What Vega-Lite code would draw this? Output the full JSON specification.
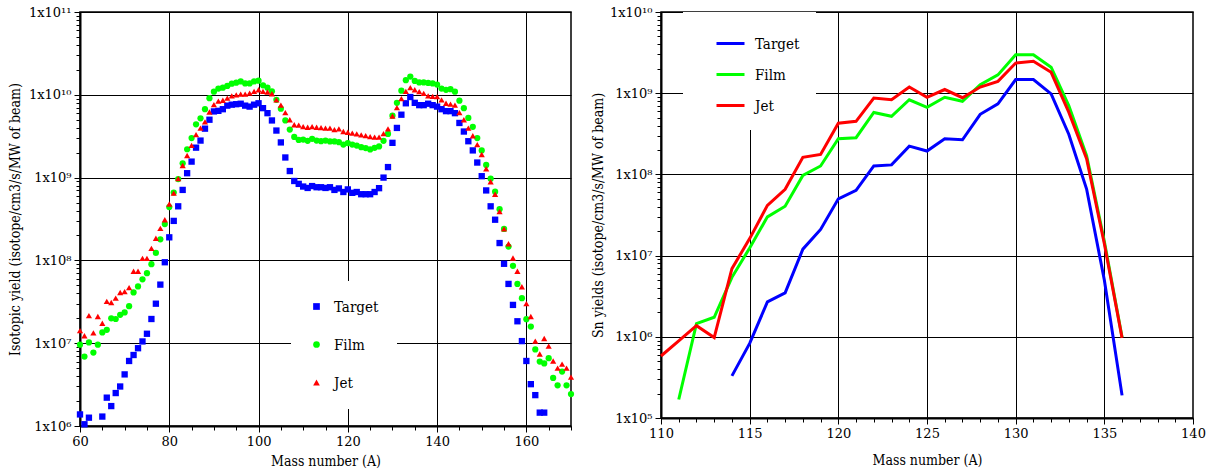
{
"$schema": "https://vega.github.io/schema/vega-lite/v6.json",
"padding": {"left": 7, "top": 5, "right": 5, "bottom": 5},
"background": "white",
"spacing": 90,
"bounds": "flush",
"config": {
  "font": "DejaVu Serif",
  "view": {"stroke": "black", "strokeWidth": 1.5},
  "axis": {"labelFont": "DejaVu Serif", "labelFontSize": 13, "labelColor": "black", "titleFont": "DejaVu Serif Condensed", "titleFontSize": 14, "titleFontWeight": "normal", "titleColor": "black", "domainColor": "black", "domainWidth": 2, "tickColor": "black", "tickWidth": 1, "gridColor": "black", "gridWidth": 1, "labelOverlap": false, "labelFlush": false, "labelBound": false, "labelPadding": 3},
  "legend": {"labelFont": "DejaVu Serif Condensed", "labelFontSize": 15, "labelColor": "black"}
},
"resolve": {"scale": {"color": "independent", "shape": "independent"}, "legend": {"color": "independent", "shape": "independent"}},
"datasets": {
"scatter": [
{"series":"Target","mass":60,"yield":1.38e6},{"series":"Target","mass":61,"yield":1.05e6},{"series":"Target","mass":62,"yield":1.26e6},{"series":"Target","mass":65,"yield":1.3e6},{"series":"Target","mass":66,"yield":2.2e6},{"series":"Target","mass":67,"yield":1.74e6},{"series":"Target","mass":68,"yield":2.5e6},{"series":"Target","mass":69,"yield":3.0e6},{"series":"Target","mass":70,"yield":4.2e6},{"series":"Target","mass":71,"yield":6.1e6},{"series":"Target","mass":72,"yield":7.2e6},{"series":"Target","mass":73,"yield":8.7e6},{"series":"Target","mass":74,"yield":1.05e7},{"series":"Target","mass":75,"yield":1.3e7},{"series":"Target","mass":76,"yield":1.96e7},{"series":"Target","mass":77,"yield":3.0e7},{"series":"Target","mass":78,"yield":5.1e7},{"series":"Target","mass":79,"yield":9.5e7},{"series":"Target","mass":80,"yield":1.9e8},{"series":"Target","mass":81,"yield":3.0e8},{"series":"Target","mass":82,"yield":4.5e8},{"series":"Target","mass":83,"yield":7.1e8},{"series":"Target","mass":84,"yield":1.13e9},{"series":"Target","mass":85,"yield":1.56e9},{"series":"Target","mass":86,"yield":2.3e9},{"series":"Target","mass":87,"yield":2.8e9},{"series":"Target","mass":88,"yield":3.9e9},{"series":"Target","mass":89,"yield":5.0e9},{"series":"Target","mass":90,"yield":6.3e9},{"series":"Target","mass":91,"yield":6.4e9},{"series":"Target","mass":92,"yield":6.7e9},{"series":"Target","mass":93,"yield":7.4e9},{"series":"Target","mass":94,"yield":7.6e9},{"series":"Target","mass":95,"yield":7.7e9},{"series":"Target","mass":96,"yield":7.8e9},{"series":"Target","mass":97,"yield":7.4e9},{"series":"Target","mass":98,"yield":7.2e9},{"series":"Target","mass":99,"yield":7.6e9},{"series":"Target","mass":100,"yield":7.9e9},{"series":"Target","mass":101,"yield":6.9e9},{"series":"Target","mass":102,"yield":6.0e9},{"series":"Target","mass":103,"yield":4.9e9},{"series":"Target","mass":104,"yield":3.7e9},{"series":"Target","mass":105,"yield":2.66e9},{"series":"Target","mass":106,"yield":1.75e9},{"series":"Target","mass":107,"yield":1.2e9},{"series":"Target","mass":108,"yield":9.1e8},{"series":"Target","mass":109,"yield":8.4e8},{"series":"Target","mass":110,"yield":7.8e8},{"series":"Target","mass":111,"yield":7.5e8},{"series":"Target","mass":112,"yield":7.9e8},{"series":"Target","mass":113,"yield":7.65e8},{"series":"Target","mass":114,"yield":7.65e8},{"series":"Target","mass":115,"yield":7.5e8},{"series":"Target","mass":116,"yield":7.65e8},{"series":"Target","mass":117,"yield":7.1e8},{"series":"Target","mass":118,"yield":7.4e8},{"series":"Target","mass":119,"yield":6.7e8},{"series":"Target","mass":120,"yield":7.2e8},{"series":"Target","mass":121,"yield":6.55e8},{"series":"Target","mass":122,"yield":6.7e8},{"series":"Target","mass":123,"yield":6.3e8},{"series":"Target","mass":124,"yield":6.3e8},{"series":"Target","mass":125,"yield":6.3e8},{"series":"Target","mass":126,"yield":6.7e8},{"series":"Target","mass":127,"yield":7.45e8},{"series":"Target","mass":128,"yield":1.0e9},{"series":"Target","mass":129,"yield":1.34e9},{"series":"Target","mass":130,"yield":2.63e9},{"series":"Target","mass":131,"yield":3.98e9},{"series":"Target","mass":132,"yield":5.75e9},{"series":"Target","mass":133,"yield":7.9e9},{"series":"Target","mass":134,"yield":9.4e9},{"series":"Target","mass":135,"yield":8.0e9},{"series":"Target","mass":136,"yield":7.5e9},{"series":"Target","mass":137,"yield":7.5e9},{"series":"Target","mass":138,"yield":7.8e9},{"series":"Target","mass":139,"yield":7.5e9},{"series":"Target","mass":140,"yield":7.2e9},{"series":"Target","mass":141,"yield":6.7e9},{"series":"Target","mass":142,"yield":6.35e9},{"series":"Target","mass":143,"yield":6.35e9},{"series":"Target","mass":144,"yield":6.0e9},{"series":"Target","mass":145,"yield":4.57e9},{"series":"Target","mass":146,"yield":3.6e9},{"series":"Target","mass":147,"yield":2.75e9},{"series":"Target","mass":148,"yield":2.13e9},{"series":"Target","mass":149,"yield":1.52e9},{"series":"Target","mass":150,"yield":1.04e9},{"series":"Target","mass":151,"yield":7.0e8},{"series":"Target","mass":152,"yield":4.5e8},{"series":"Target","mass":153,"yield":3.1e8},{"series":"Target","mass":154,"yield":1.62e8},{"series":"Target","mass":155,"yield":9.1e7},{"series":"Target","mass":156,"yield":5.2e7},{"series":"Target","mass":157,"yield":2.9e7},{"series":"Target","mass":158,"yield":1.84e7},{"series":"Target","mass":159,"yield":1.06e7},{"series":"Target","mass":160,"yield":6.1e6},{"series":"Target","mass":161,"yield":3.2e6},{"series":"Target","mass":162,"yield":2.36e6},{"series":"Target","mass":163,"yield":1.45e6},{"series":"Target","mass":164,"yield":1.45e6},
{"series":"Film","mass":60,"yield":9.6e6},{"series":"Film","mass":61,"yield":6.9e6},{"series":"Film","mass":62,"yield":1.02e7},{"series":"Film","mass":63,"yield":7.7e6},{"series":"Film","mass":64,"yield":9.6e6},{"series":"Film","mass":65,"yield":1.35e7},{"series":"Film","mass":66,"yield":1.45e7},{"series":"Film","mass":67,"yield":2.0e7},{"series":"Film","mass":68,"yield":1.96e7},{"series":"Film","mass":69,"yield":2.2e7},{"series":"Film","mass":70,"yield":2.35e7},{"series":"Film","mass":71,"yield":2.8e7},{"series":"Film","mass":72,"yield":4.1e7},{"series":"Film","mass":73,"yield":4.85e7},{"series":"Film","mass":74,"yield":5.9e7},{"series":"Film","mass":75,"yield":7.0e7},{"series":"Film","mass":76,"yield":9.0e7},{"series":"Film","mass":77,"yield":1.23e8},{"series":"Film","mass":78,"yield":1.8e8},{"series":"Film","mass":79,"yield":2.75e8},{"series":"Film","mass":80,"yield":4.4e8},{"series":"Film","mass":81,"yield":6.6e8},{"series":"Film","mass":82,"yield":9.6e8},{"series":"Film","mass":83,"yield":1.49e9},{"series":"Film","mass":84,"yield":2.2e9},{"series":"Film","mass":85,"yield":3.0e9},{"series":"Film","mass":86,"yield":4.4e9},{"series":"Film","mass":87,"yield":5.2e9},{"series":"Film","mass":88,"yield":6.7e9},{"series":"Film","mass":89,"yield":9.1e9},{"series":"Film","mass":90,"yield":1.09e10},{"series":"Film","mass":91,"yield":1.19e10},{"series":"Film","mass":92,"yield":1.22e10},{"series":"Film","mass":93,"yield":1.28e10},{"series":"Film","mass":94,"yield":1.36e10},{"series":"Film","mass":95,"yield":1.4e10},{"series":"Film","mass":96,"yield":1.45e10},{"series":"Film","mass":97,"yield":1.37e10},{"series":"Film","mass":98,"yield":1.37e10},{"series":"Film","mass":99,"yield":1.45e10},{"series":"Film","mass":100,"yield":1.48e10},{"series":"Film","mass":101,"yield":1.3e10},{"series":"Film","mass":102,"yield":1.22e10},{"series":"Film","mass":103,"yield":1.1e10},{"series":"Film","mass":104,"yield":8.7e9},{"series":"Film","mass":105,"yield":6.8e9},{"series":"Film","mass":106,"yield":4.9e9},{"series":"Film","mass":107,"yield":3.8e9},{"series":"Film","mass":108,"yield":3.1e9},{"series":"Film","mass":109,"yield":2.85e9},{"series":"Film","mass":110,"yield":2.88e9},{"series":"Film","mass":111,"yield":2.78e9},{"series":"Film","mass":112,"yield":2.94e9},{"series":"Film","mass":113,"yield":2.8e9},{"series":"Film","mass":114,"yield":2.75e9},{"series":"Film","mass":115,"yield":2.8e9},{"series":"Film","mass":116,"yield":2.73e9},{"series":"Film","mass":117,"yield":2.73e9},{"series":"Film","mass":118,"yield":2.68e9},{"series":"Film","mass":119,"yield":2.51e9},{"series":"Film","mass":120,"yield":2.61e9},{"series":"Film","mass":121,"yield":2.51e9},{"series":"Film","mass":122,"yield":2.44e9},{"series":"Film","mass":123,"yield":2.33e9},{"series":"Film","mass":124,"yield":2.27e9},{"series":"Film","mass":125,"yield":2.19e9},{"series":"Film","mass":126,"yield":2.29e9},{"series":"Film","mass":127,"yield":2.38e9},{"series":"Film","mass":128,"yield":2.78e9},{"series":"Film","mass":129,"yield":3.37e9},{"series":"Film","mass":130,"yield":5.6e9},{"series":"Film","mass":131,"yield":8.0e9},{"series":"Film","mass":132,"yield":1.12e10},{"series":"Film","mass":133,"yield":1.5e10},{"series":"Film","mass":134,"yield":1.66e10},{"series":"Film","mass":135,"yield":1.47e10},{"series":"Film","mass":136,"yield":1.41e10},{"series":"Film","mass":137,"yield":1.41e10},{"series":"Film","mass":138,"yield":1.39e10},{"series":"Film","mass":139,"yield":1.37e10},{"series":"Film","mass":140,"yield":1.33e10},{"series":"Film","mass":141,"yield":1.19e10},{"series":"Film","mass":142,"yield":1.15e10},{"series":"Film","mass":143,"yield":1.17e10},{"series":"Film","mass":144,"yield":1.09e10},{"series":"Film","mass":145,"yield":8.5e9},{"series":"Film","mass":146,"yield":6.9e9},{"series":"Film","mass":147,"yield":5.25e9},{"series":"Film","mass":148,"yield":4.1e9},{"series":"Film","mass":149,"yield":3.0e9},{"series":"Film","mass":150,"yield":2.13e9},{"series":"Film","mass":151,"yield":1.42e9},{"series":"Film","mass":152,"yield":9.7e8},{"series":"Film","mass":153,"yield":6.75e8},{"series":"Film","mass":154,"yield":4.15e8},{"series":"Film","mass":155,"yield":2.4e8},{"series":"Film","mass":156,"yield":1.47e8},{"series":"Film","mass":157,"yield":8.6e7},{"series":"Film","mass":158,"yield":5.2e7},{"series":"Film","mass":159,"yield":3.5e7},{"series":"Film","mass":160,"yield":1.95e7},{"series":"Film","mass":161,"yield":1.59e7},{"series":"Film","mass":162,"yield":8.4e6},{"series":"Film","mass":163,"yield":6.0e6},{"series":"Film","mass":164,"yield":5.7e6},{"series":"Film","mass":165,"yield":6.6e6},{"series":"Film","mass":166,"yield":3.8e6},{"series":"Film","mass":167,"yield":3.1e6},{"series":"Film","mass":168,"yield":4.55e6},{"series":"Film","mass":169,"yield":3.1e6},{"series":"Film","mass":170,"yield":2.43e6},
{"series":"Jet","mass":60,"yield":1.42e7},{"series":"Jet","mass":61,"yield":1.23e7},{"series":"Jet","mass":62,"yield":2.15e7},{"series":"Jet","mass":63,"yield":1.33e7},{"series":"Jet","mass":64,"yield":2.1e7},{"series":"Jet","mass":65,"yield":1.74e7},{"series":"Jet","mass":66,"yield":3.2e7},{"series":"Jet","mass":67,"yield":3.1e7},{"series":"Jet","mass":68,"yield":3.5e7},{"series":"Jet","mass":69,"yield":4.1e7},{"series":"Jet","mass":70,"yield":4.2e7},{"series":"Jet","mass":71,"yield":4.7e7},{"series":"Jet","mass":72,"yield":7.4e7},{"series":"Jet","mass":73,"yield":7.4e7},{"series":"Jet","mass":74,"yield":1.06e8},{"series":"Jet","mass":75,"yield":1.06e8},{"series":"Jet","mass":76,"yield":1.4e8},{"series":"Jet","mass":77,"yield":1.85e8},{"series":"Jet","mass":78,"yield":2.44e8},{"series":"Jet","mass":79,"yield":3.1e8},{"series":"Jet","mass":80,"yield":4.8e8},{"series":"Jet","mass":81,"yield":6.5e8},{"series":"Jet","mass":82,"yield":9.7e8},{"series":"Jet","mass":83,"yield":1.4e9},{"series":"Jet","mass":84,"yield":1.85e9},{"series":"Jet","mass":85,"yield":2.45e9},{"series":"Jet","mass":86,"yield":3.3e9},{"series":"Jet","mass":87,"yield":3.95e9},{"series":"Jet","mass":88,"yield":4.7e9},{"series":"Jet","mass":89,"yield":6.2e9},{"series":"Jet","mass":90,"yield":7.6e9},{"series":"Jet","mass":91,"yield":8.4e9},{"series":"Jet","mass":92,"yield":8.6e9},{"series":"Jet","mass":93,"yield":9.1e9},{"series":"Jet","mass":94,"yield":9.7e9},{"series":"Jet","mass":95,"yield":1.0e10},{"series":"Jet","mass":96,"yield":1.02e10},{"series":"Jet","mass":97,"yield":1.02e10},{"series":"Jet","mass":98,"yield":1.05e10},{"series":"Jet","mass":99,"yield":1.1e10},{"series":"Jet","mass":100,"yield":1.15e10},{"series":"Jet","mass":101,"yield":1.1e10},{"series":"Jet","mass":102,"yield":1.08e10},{"series":"Jet","mass":103,"yield":1.03e10},{"series":"Jet","mass":104,"yield":8.7e9},{"series":"Jet","mass":105,"yield":7.5e9},{"series":"Jet","mass":106,"yield":6.1e9},{"series":"Jet","mass":107,"yield":5.0e9},{"series":"Jet","mass":108,"yield":4.35e9},{"series":"Jet","mass":109,"yield":4.3e9},{"series":"Jet","mass":110,"yield":4.13e9},{"series":"Jet","mass":111,"yield":4.06e9},{"series":"Jet","mass":112,"yield":4.13e9},{"series":"Jet","mass":113,"yield":4.06e9},{"series":"Jet","mass":114,"yield":4.02e9},{"series":"Jet","mass":115,"yield":3.95e9},{"series":"Jet","mass":116,"yield":3.95e9},{"series":"Jet","mass":117,"yield":3.8e9},{"series":"Jet","mass":118,"yield":3.87e9},{"series":"Jet","mass":119,"yield":3.6e9},{"series":"Jet","mass":120,"yield":3.53e9},{"series":"Jet","mass":121,"yield":3.44e9},{"series":"Jet","mass":122,"yield":3.37e9},{"series":"Jet","mass":123,"yield":3.28e9},{"series":"Jet","mass":124,"yield":3.22e9},{"series":"Jet","mass":125,"yield":3.13e9},{"series":"Jet","mass":126,"yield":3.08e9},{"series":"Jet","mass":127,"yield":3.08e9},{"series":"Jet","mass":128,"yield":3.4e9},{"series":"Jet","mass":129,"yield":3.87e9},{"series":"Jet","mass":130,"yield":5.55e9},{"series":"Jet","mass":131,"yield":7.0e9},{"series":"Jet","mass":132,"yield":9.0e9},{"series":"Jet","mass":133,"yield":1.1e10},{"series":"Jet","mass":134,"yield":1.22e10},{"series":"Jet","mass":135,"yield":1.15e10},{"series":"Jet","mass":136,"yield":1.09e10},{"series":"Jet","mass":137,"yield":1.04e10},{"series":"Jet","mass":138,"yield":9.7e9},{"series":"Jet","mass":139,"yield":9.55e9},{"series":"Jet","mass":140,"yield":9.5e9},{"series":"Jet","mass":141,"yield":8.7e9},{"series":"Jet","mass":142,"yield":7.9e9},{"series":"Jet","mass":143,"yield":7.7e9},{"series":"Jet","mass":144,"yield":7.5e9},{"series":"Jet","mass":145,"yield":6.1e9},{"series":"Jet","mass":146,"yield":5.0e9},{"series":"Jet","mass":147,"yield":3.95e9},{"series":"Jet","mass":148,"yield":3.2e9},{"series":"Jet","mass":149,"yield":2.5e9},{"series":"Jet","mass":150,"yield":1.9e9},{"series":"Jet","mass":151,"yield":1.28e9},{"series":"Jet","mass":152,"yield":8.9e8},{"series":"Jet","mass":153,"yield":6.3e8},{"series":"Jet","mass":154,"yield":3.9e8},{"series":"Jet","mass":155,"yield":2.4e8},{"series":"Jet","mass":156,"yield":1.59e8},{"series":"Jet","mass":157,"yield":1.07e8},{"series":"Jet","mass":158,"yield":7.4e7},{"series":"Jet","mass":159,"yield":4.8e7},{"series":"Jet","mass":160,"yield":3.0e7},{"series":"Jet","mass":161,"yield":2.1e7},{"series":"Jet","mass":162,"yield":1.06e7},{"series":"Jet","mass":163,"yield":7.4e6},{"series":"Jet","mass":164,"yield":1.14e7},{"series":"Jet","mass":165,"yield":9.2e6},{"series":"Jet","mass":166,"yield":6.1e6},{"series":"Jet","mass":167,"yield":5.0e6},{"series":"Jet","mass":168,"yield":5.6e6},{"series":"Jet","mass":169,"yield":5.0e6},{"series":"Jet","mass":170,"yield":3.9e6}
],
"sn": [
{"series":"Target","mass":114,"yield":3.3e5},{"series":"Target","mass":115,"yield":8.3e5},{"series":"Target","mass":116,"yield":2.69e6},{"series":"Target","mass":117,"yield":3.48e6},{"series":"Target","mass":118,"yield":1.2e7},{"series":"Target","mass":119,"yield":2.1e7},{"series":"Target","mass":120,"yield":5.0e7},{"series":"Target","mass":121,"yield":6.35e7},{"series":"Target","mass":122,"yield":1.27e8},{"series":"Target","mass":123,"yield":1.31e8},{"series":"Target","mass":124,"yield":2.23e8},{"series":"Target","mass":125,"yield":1.94e8},{"series":"Target","mass":126,"yield":2.75e8},{"series":"Target","mass":127,"yield":2.67e8},{"series":"Target","mass":128,"yield":5.5e8},{"series":"Target","mass":129,"yield":7.4e8},{"series":"Target","mass":130,"yield":1.47e9},{"series":"Target","mass":131,"yield":1.47e9},{"series":"Target","mass":132,"yield":9.8e8},{"series":"Target","mass":133,"yield":3.1e8},{"series":"Target","mass":134,"yield":6.6e7},{"series":"Target","mass":135,"yield":5.0e6},{"series":"Target","mass":136,"yield":1.9e5},
{"series":"Film","mass":111,"yield":1.69e5},{"series":"Film","mass":112,"yield":1.45e6},{"series":"Film","mass":113,"yield":1.74e6},{"series":"Film","mass":114,"yield":5.4e6},{"series":"Film","mass":115,"yield":1.24e7},{"series":"Film","mass":116,"yield":3.0e7},{"series":"Film","mass":117,"yield":4.05e7},{"series":"Film","mass":118,"yield":9.7e7},{"series":"Film","mass":119,"yield":1.27e8},{"series":"Film","mass":120,"yield":2.75e8},{"series":"Film","mass":121,"yield":2.83e8},{"series":"Film","mass":122,"yield":5.8e8},{"series":"Film","mass":123,"yield":5.2e8},{"series":"Film","mass":124,"yield":8.3e8},{"series":"Film","mass":125,"yield":6.7e8},{"series":"Film","mass":126,"yield":8.9e8},{"series":"Film","mass":127,"yield":7.95e8},{"series":"Film","mass":128,"yield":1.27e9},{"series":"Film","mass":129,"yield":1.68e9},{"series":"Film","mass":130,"yield":2.98e9},{"series":"Film","mass":131,"yield":2.98e9},{"series":"Film","mass":132,"yield":2.09e9},{"series":"Film","mass":133,"yield":7.0e8},{"series":"Film","mass":134,"yield":1.7e8},{"series":"Film","mass":135,"yield":1.5e7},{"series":"Film","mass":136,"yield":9.9e5},
{"series":"Jet","mass":110,"yield":5.8e5},{"series":"Jet","mass":111,"yield":8.9e5},{"series":"Jet","mass":112,"yield":1.37e6},{"series":"Jet","mass":113,"yield":9.8e5},{"series":"Jet","mass":114,"yield":6.9e6},{"series":"Jet","mass":115,"yield":1.62e7},{"series":"Jet","mass":116,"yield":4.15e7},{"series":"Jet","mass":117,"yield":6.55e7},{"series":"Jet","mass":118,"yield":1.62e8},{"series":"Jet","mass":119,"yield":1.76e8},{"series":"Jet","mass":120,"yield":4.27e8},{"series":"Jet","mass":121,"yield":4.5e8},{"series":"Jet","mass":122,"yield":8.7e8},{"series":"Jet","mass":123,"yield":8.3e8},{"series":"Jet","mass":124,"yield":1.19e9},{"series":"Jet","mass":125,"yield":8.9e8},{"series":"Jet","mass":126,"yield":1.11e9},{"series":"Jet","mass":127,"yield":8.8e8},{"series":"Jet","mass":128,"yield":1.19e9},{"series":"Jet","mass":129,"yield":1.4e9},{"series":"Jet","mass":130,"yield":2.35e9},{"series":"Jet","mass":131,"yield":2.47e9},{"series":"Jet","mass":132,"yield":1.81e9},{"series":"Jet","mass":133,"yield":5.8e8},{"series":"Jet","mass":134,"yield":1.56e8},{"series":"Jet","mass":135,"yield":1.4e7},{"series":"Jet","mass":136,"yield":9.7e5}
]
},
"hconcat": [
{
  "width": 491, "height": 414,
  "data": {"name": "scatter"},
  "mark": {"type": "point", "filled": true, "opacity": 1},
  "encoding": {
    "x": {"field": "mass", "type": "quantitative", "scale": {"domain": [60, 170], "nice": false, "zero": false},
      "axis": {"title": "Mass number (A)", "titlePadding": 6,
        "values": [60,65,70,75,80,85,90,95,100,105,110,115,120,125,130,135,140,145,150,155,160,165,170],
        "labelExpr": "datum.value % 20 === 0 && datum.value < 170 ? datum.label : ''",
        "tickSize": {"condition": {"test": "datum.value % 20 === 0", "value": 6}, "value": 4},
        "grid": true,
        "gridOpacity": {"condition": {"test": "datum.value % 20 === 0 && datum.value > 60 && datum.value < 170", "value": 1}, "value": 0}}},
    "y": {"field": "yield", "type": "quantitative", "scale": {"type": "log", "domain": [1e6, 1e11], "nice": false},
      "axis": {"title": "Isotopic yield (isotope/cm3/s/MW of beam)", "titlePadding": 6,
        "values": [1e6,2e6,3e6,4e6,5e6,6e6,7e6,8e6,9e6,1e7,2e7,3e7,4e7,5e7,6e7,7e7,8e7,9e7,1e8,2e8,3e8,4e8,5e8,6e8,7e8,8e8,9e8,1e9,2e9,3e9,4e9,5e9,6e9,7e9,8e9,9e9,1e10,2e10,3e10,4e10,5e10,6e10,7e10,8e10,9e10,1e11],
        "labelExpr": "abs(log(datum.value)/LN10 - round(log(datum.value)/LN10)) < 0.001 ? '1x10' + ['⁵','⁶','⁷','⁸','⁹','¹⁰','¹¹'][round(log(datum.value)/LN10) - 5] : ''",
        "tickSize": {"condition": {"test": "abs(log(datum.value)/LN10 - round(log(datum.value)/LN10)) < 0.001", "value": 6}, "value": 4},
        "grid": true,
        "gridOpacity": {"condition": {"test": "abs(log(datum.value)/LN10 - round(log(datum.value)/LN10)) < 0.001", "value": 1}, "value": 0}}},
    "color": {"field": "series", "type": "nominal", "scale": {"domain": ["Target", "Film", "Jet"], "range": ["#0000ff", "#00ff00", "#ff0000"]},
      "legend": {"orient": "none", "legendX": 211, "legendY": 269, "title": null, "fillColor": "white", "padding": 18, "rowPadding": 22, "labelOffset": 10, "symbolSize": 45, "labelFont": "DejaVu Serif Condensed", "labelFontSize": 15}},
    "shape": {"field": "series", "type": "nominal", "scale": {"domain": ["Target", "Film", "Jet"], "range": ["square", "circle", "triangle-up"]},
      "legend": {"orient": "none", "legendX": 211, "legendY": 269, "title": null, "fillColor": "white", "padding": 18, "rowPadding": 22, "labelOffset": 10, "symbolSize": 45, "labelFont": "DejaVu Serif Condensed", "labelFontSize": 15}},
    "size": {"field": "series", "type": "nominal", "scale": {"domain": ["Target", "Film", "Jet"], "range": [40, 38, 55]}, "legend": null}
  }
},
{
  "width": 532, "height": 406,
  "data": {"name": "sn"},
  "mark": {"type": "line", "strokeWidth": 3},
  "encoding": {
    "x": {"field": "mass", "type": "quantitative", "scale": {"domain": [110, 140], "nice": false, "zero": false},
      "axis": {"title": "Mass number (A)", "titlePadding": 13,
        "values": [110,111,112,113,114,115,116,117,118,119,120,121,122,123,124,125,126,127,128,129,130,131,132,133,134,135,136,137,138,139,140],
        "labelExpr": "datum.value % 5 === 0 ? datum.label : ''",
        "tickSize": {"condition": {"test": "datum.value % 5 === 0", "value": 6}, "value": 4},
        "grid": true,
        "gridOpacity": {"condition": {"test": "datum.value % 5 === 0 && datum.value > 110 && datum.value < 140", "value": 1}, "value": 0}}},
    "y": {"field": "yield", "type": "quantitative", "scale": {"type": "log", "domain": [1e5, 1e10], "nice": false},
      "axis": {"title": "Sn yields (isotope/cm3/s/MW of beam)", "titlePadding": 4,
        "values": [1e5,2e5,3e5,4e5,5e5,6e5,7e5,8e5,9e5,1e6,2e6,3e6,4e6,5e6,6e6,7e6,8e6,9e6,1e7,2e7,3e7,4e7,5e7,6e7,7e7,8e7,9e7,1e8,2e8,3e8,4e8,5e8,6e8,7e8,8e8,9e8,1e9,2e9,3e9,4e9,5e9,6e9,7e9,8e9,9e9,1e10],
        "labelExpr": "abs(log(datum.value)/LN10 - round(log(datum.value)/LN10)) < 0.001 ? '1x10' + ['⁵','⁶','⁷','⁸','⁹','¹⁰','¹¹'][round(log(datum.value)/LN10) - 5] : ''",
        "tickSize": {"condition": {"test": "abs(log(datum.value)/LN10 - round(log(datum.value)/LN10)) < 0.001", "value": 6}, "value": 4},
        "grid": true,
        "gridOpacity": {"condition": {"test": "abs(log(datum.value)/LN10 - round(log(datum.value)/LN10)) < 0.001", "value": 1}, "value": 0}}},
    "color": {"field": "series", "type": "nominal", "scale": {"domain": ["Target", "Film", "Jet"], "range": ["#0000ff", "#00ff00", "#ff0000"]},
      "legend": {"orient": "none", "legendX": 22, "legendY": 0, "title": null, "fillColor": "white", "padding": 16, "symbolOffset": 16, "rowPadding": 7, "labelOffset": 9, "symbolType": "stroke", "symbolStrokeWidth": 3, "symbolSize": 784, "labelFont": "DejaVu Serif Condensed", "labelFontSize": 15}}
  }
}
]
}
